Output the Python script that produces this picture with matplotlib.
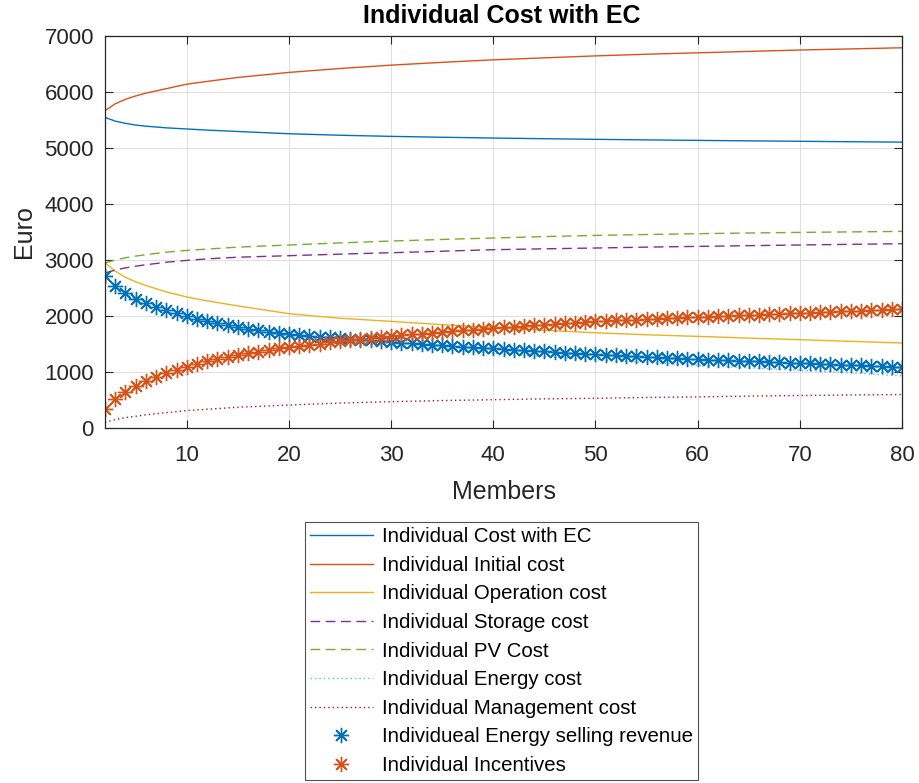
import matplotlib
matplotlib.use("Agg")
import matplotlib.pyplot as plt

plt.rcParams['font.family'] = ['Liberation Sans', 'DejaVu Sans']

# Number of community members
members = list(range(2, 81))
members_line = [2, 3, 4, 5, 6, 8, 10, 12, 15, 20, 25, 30, 35, 40, 45, 50, 55, 60, 65, 70, 75, 80]

# Per-member costs (Euro) for the line series, sampled at members_line
cost_with_ec = [5547, 5480, 5440, 5410, 5390, 5360, 5340, 5320, 5295, 5255, 5228,
                5208, 5192, 5178, 5166, 5155, 5145, 5136, 5128, 5120, 5112, 5105]
initial_cost = [5666, 5790, 5870, 5930, 5980, 6060, 6140, 6190, 6260, 6350, 6420,
                6480, 6530, 6575, 6610, 6645, 6675, 6700, 6725, 6750, 6770, 6790]
operation_cost = [2946, 2800, 2690, 2610, 2545, 2430, 2339, 2270, 2180, 2041, 1960,
                  1904, 1845, 1795, 1745, 1700, 1665, 1636, 1605, 1577, 1547, 1518]
storage_cost = [2768, 2820, 2860, 2890, 2915, 2960, 2993, 3020, 3050, 3077, 3105,
                3130, 3157, 3184, 3200, 3214, 3230, 3243, 3256, 3268, 3280, 3291]
pv_cost = [2946, 3000, 3040, 3070, 3095, 3140, 3171, 3195, 3230, 3268, 3305,
           3339, 3367, 3393, 3418, 3439, 3455, 3470, 3482, 3493, 3502, 3511]
energy_cost = [2707, 2530, 2400, 2295, 2210, 2080, 1965, 1880, 1775, 1640, 1545,
               1465, 1395, 1335, 1275, 1220, 1170, 1120, 1075, 1030, 985, 930]
management_cost = [100, 150, 185, 210, 235, 275, 310, 335, 370, 410, 445,
                   470, 490, 505, 520, 530, 545, 555, 570, 580, 590, 597]

# Per-member revenue and incentives (Euro), one value per member count 2..80
selling_revenue = [2707, 2540, 2410, 2310, 2230, 2160, 2100, 2045, 1993, 1950,
                   1910, 1873, 1838, 1806, 1776, 1748, 1722, 1700, 1680, 1664,
                   1648, 1633, 1619, 1605, 1592, 1580, 1566, 1550, 1535, 1523,
                   1511, 1499, 1487, 1475, 1464, 1453, 1442, 1431, 1420, 1409,
                   1398, 1388, 1377, 1367, 1357, 1346, 1336, 1325, 1315, 1306,
                   1298, 1289, 1281, 1272, 1264, 1255, 1247, 1238, 1230, 1223,
                   1216, 1209, 1202, 1195, 1188, 1181, 1174, 1167, 1160, 1153,
                   1146, 1139, 1132, 1125, 1117, 1110, 1103, 1096, 1089]
incentives = [339, 520, 650, 755, 840, 915, 980, 1040, 1095, 1145,
              1190, 1230, 1268, 1302, 1334, 1364, 1392, 1420, 1445, 1466,
              1487, 1508, 1528, 1548, 1565, 1582, 1600, 1620, 1640, 1655,
              1670, 1685, 1700, 1715, 1730, 1744, 1758, 1772, 1786, 1798,
              1810, 1822, 1834, 1846, 1858, 1870, 1881, 1892, 1904, 1912,
              1920, 1928, 1935, 1943, 1951, 1959, 1966, 1974, 1982, 1989,
              1996, 2004, 2011, 2018, 2025, 2032, 2040, 2047, 2054, 2061,
              2068, 2075, 2082, 2090, 2097, 2104, 2111, 2118, 2125]

x_ticks = [10, 20, 30, 40, 50, 60, 70, 80]
y_ticks = [0, 1000, 2000, 3000, 4000, 5000, 6000, 7000]

C_BLUE = '#0072BD'
C_ORANGE = '#D95319'
C_YELLOW = '#EDB120'
C_PURPLE = '#7E2F8E'
C_GREEN = '#77AC30'
C_CYAN = '#4DBEEE'
C_RED = '#A2142F'
TXT = '#262626'

fig = plt.figure(figsize=(9.19, 7.83), dpi=100)
ax = fig.add_axes([0.1143, 0.4534, 0.8672, 0.5006])

lw = 1.0
ax.plot(members_line, cost_with_ec, color=C_BLUE, lw=lw, label='Individual Cost with EC')
ax.plot(members_line, initial_cost, color=C_ORANGE, lw=lw, label='Individual Initial cost')
ax.plot(members_line, operation_cost, color=C_YELLOW, lw=lw, label='Individual Operation cost')
ax.plot(members_line, storage_cost, color=C_PURPLE, lw=lw, dashes=(7, 4),
        label='Individual Storage cost')
ax.plot(members_line, pv_cost, color=C_GREEN, lw=lw, dashes=(7, 4),
        label='Individual PV Cost')
ax.plot(members_line, energy_cost, color=C_CYAN, lw=lw, dashes=(1, 2.2),
        label='Individual Energy cost')
ax.plot(members_line, management_cost, color=C_RED, lw=lw, dashes=(1, 2.2),
        label='Individual Management cost')

asterisk = (8, 2, 0)
ax.plot(members, selling_revenue, ls='none', marker=asterisk, ms=11, mew=1.0,
        color=C_BLUE, label='Individueal Energy selling revenue')
ax.plot(members, incentives, ls='none', marker=asterisk, ms=11, mew=1.0,
        color=C_ORANGE, label='Individual Incentives')

ax.set_xlim(2, 80)
ax.set_ylim(0, 7000)
ax.set_xticks(x_ticks)
ax.set_yticks(y_ticks)
ax.grid(True, color='#dfdfdf', lw=0.7)
ax.set_axisbelow(True)
ax.tick_params(direction='in', length=6, width=0.8, top=True, right=True,
               labelsize=16, colors=TXT)
ax.tick_params(axis='x', pad=12)
ax.tick_params(axis='y', pad=8)
for s in ax.spines.values():
    s.set_color(TXT)
    s.set_linewidth(0.9)

ax.set_xlabel('Members', fontsize=18, color=TXT, labelpad=10)
ax.set_ylabel('Euro', fontsize=18, color=TXT, labelpad=6)
fig.text(0.546, 0.979, 'Individual Cost with EC', fontsize=18, fontweight='bold',
         ha='center', va='center', color='#000000')

leg = ax.legend(loc='upper center', bbox_to_anchor=(0.5457, 0.3333),
                bbox_transform=fig.transFigure, fontsize=14.7, frameon=True,
                fancybox=False, edgecolor=TXT, handlelength=3.1,
                handletextpad=0.45, labelspacing=0.47, borderpad=0.25,
                borderaxespad=0, markerscale=1.0)
leg.get_frame().set_linewidth(0.8)
for t in leg.get_texts():
    t.set_color('#000000')

fig.savefig('out.png', dpi=100, facecolor='white')
